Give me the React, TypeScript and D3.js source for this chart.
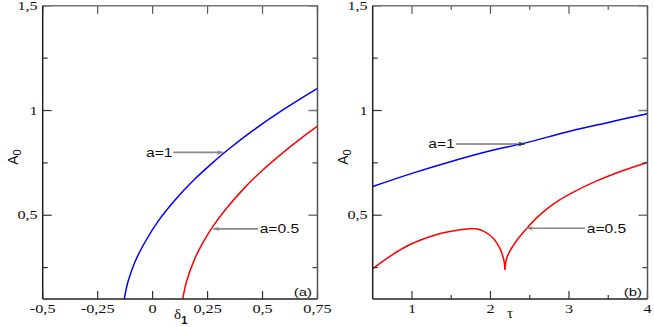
import React from "react";
import * as d3 from "d3";

// ---------- data ----------
// Panel (a): A0 vs delta_1
const blueDelta = [-0.129, -0.12, -0.111, -0.08, -0.035, 0.026, 0.101, 0.192, 0.283, 0.344, 0.457, 0.594, 0.75];
const blueDeltaA = [0.098, 0.149, 0.186, 0.278, 0.371, 0.473, 0.572, 0.673, 0.76, 0.814, 0.905, 1.004, 1.106];
const redDelta = [0.137, 0.142, 0.155, 0.192, 0.238, 0.276, 0.329, 0.42, 0.5, 0.6, 0.675, 0.75];
const redDeltaA = [0.098, 0.129, 0.186, 0.293, 0.386, 0.449, 0.524, 0.633, 0.715, 0.805, 0.867, 0.925];

// Panel (b): A0 vs tau
const blueTau = [0.5, 1.0, 1.5, 2.0, 2.42, 3.0, 3.5, 4.0];
const blueTauA = [0.637, 0.7, 0.757, 0.808, 0.843, 0.9, 0.943, 0.985];
const redTauLeft = [0.5, 0.72, 0.976, 1.317, 1.5, 1.74, 1.83, 1.91, 1.98, 2.04, 2.08, 2.126, 2.15, 2.168, 2.178, 2.183];
const redTauLeftA = [0.245, 0.304, 0.36, 0.408, 0.424, 0.436, 0.434, 0.424, 0.408, 0.388, 0.368, 0.337, 0.313, 0.29, 0.268, 0.24];
const redTauRight = [2.183, 2.2, 2.232, 2.339, 2.461, 2.615, 2.8, 3.02, 3.36, 3.7, 4.0];
const redTauRightA = [0.24, 0.285, 0.318, 0.382, 0.437, 0.497, 0.553, 0.603, 0.665, 0.715, 0.752];

// ticks
const yMajor = [0.5, 1, 1.5];
const yMajorLabels = ["0,5", "1", "1,5"];
const yMinor = [0.25, 0.75, 1.25];
const leftXTicks = [-0.5, -0.25, 0, 0.25, 0.5, 0.75];
const leftXLabels = ["-0,5", "-0,25", "0", "0,25", "0,5", "0,75"];
const rightXMajor = [1, 2, 3, 4];
const rightXLabels = ["1", "2", "3", "4"];
const rightXMinor = [1.5, 2.5, 3.5];

// annotations: [label, tipX, tipY, tailX, textX, textY, colour] in data units
const leftNotes: [string, number, number, number, number, number, string][] = [
  ["a=1", 0.32, 0.8, 0.094, -0.03, 0.78, "#888"],
  ["a=0.5", 0.276, 0.435, 0.48, 0.487, 0.417, "#888"],
];
const rightNotes: [string, number, number, number, number, number, string][] = [
  ["a=1", 2.44, 0.84, 1.561, 1.208, 0.82, "#333"],
  ["a=0.5", 2.461, 0.4376, 3.204, 3.226, 0.4166, "#888"],
];

const W = 654;
const H = 327;
const SX = 1.3;
const serif = "'Liberation Serif', 'Times New Roman', serif";
const sans = "'Liberation Sans', Arial, sans-serif";

const yScale = d3.scaleLinear().domain([0.1, 1.5]).range([299, 5.8]);
const xLeft = d3.scaleLinear().domain([-0.5, 0.75]).range([42.7, 317.5]);
const xRight = d3.scaleLinear().domain([0.5, 4]).range([372.7, 647.5]);

function T({ x, y, anchor = "start", font = serif, size = 12.5, fill = "#111", children }: any) {
  return (
    <g transform={`translate(${x},${y}) scale(${SX},1)`}>
      <text x={0} y={0} textAnchor={anchor} fontFamily={font} fontSize={size} fill={fill}>
        {children}
      </text>
    </g>
  );
}

function makePath(xs: number[], ys: number[], xs2: any) {
  const pts = xs.map((v, i) => [v, ys[i]] as [number, number]);
  return d3
    .line<[number, number]>()
    .x((d) => xs2(d[0]))
    .y((d) => yScale(d[1]))
    .curve(d3.curveCatmullRom.alpha(0.5))(pts) as string;
}

function Panel({ id, xs, xTicksMajor, xLabels, xTicksMinor, curves, notes, tag, xTitle }: any) {
  const [x0, x1] = xs.range();
  const y0 = yScale.range()[0];
  const y1 = yScale.range()[1];
  return (
    <g>
      <defs>
        <clipPath id={`clip-${id}`}>
          <rect x={x0} y={y1} width={x1 - x0} height={y0 - y1} />
        </clipPath>
      </defs>
      <g clipPath={`url(#clip-${id})`}>
        {curves.map((c: any, i: number) => (
          <path key={i} d={makePath(c.x, c.y, xs)} fill="none" stroke={c.color} strokeWidth={1.5} />
        ))}
      </g>
      {xTicksMajor.map((t: number, i: number) => (
        <g key={"xm" + i}>
          <line x1={xs(t)} x2={xs(t)} y1={y0} y2={y0 - 8} stroke="#333" strokeWidth={1.2} />
          <line x1={xs(t)} x2={xs(t)} y1={y1} y2={y1 + 8} stroke="#555" strokeWidth={1.2} />
        </g>
      ))}
      {xTicksMinor.map((t: number, i: number) => (
        <g key={"xn" + i}>
          <line x1={xs(t)} x2={xs(t)} y1={y0} y2={y0 - 4} stroke="#333" strokeWidth={1.2} />
          <line x1={xs(t)} x2={xs(t)} y1={y1} y2={y1 + 4} stroke="#555" strokeWidth={1.2} />
        </g>
      ))}
      {yMajor.map((t, i) => (
        <g key={"ym" + i}>
          <line x1={x0} x2={x0 + 9} y1={yScale(t)} y2={yScale(t)} stroke="#333" strokeWidth={1.2} />
          <line x1={x1} x2={x1 - 9} y1={yScale(t)} y2={yScale(t)} stroke="#777" strokeWidth={1.5} />
        </g>
      ))}
      {yMinor.map((t, i) => (
        <g key={"yn" + i}>
          <line x1={x0} x2={x0 + 5} y1={yScale(t)} y2={yScale(t)} stroke="#333" strokeWidth={1.2} />
          <line x1={x1} x2={x1 - 5} y1={yScale(t)} y2={yScale(t)} stroke="#444" strokeWidth={1.2} />
        </g>
      ))}
      <line x1={x0} x2={x1} y1={y1} y2={y1} stroke="#777" strokeWidth={1.5} />
      <line x1={x1} x2={x1} y1={y1} y2={y0} stroke="#555" strokeWidth={1.5} />
      <line x1={x0} x2={x0} y1={y1} y2={y0} stroke="#222" strokeWidth={1.5} />
      <line x1={x0} x2={x1} y1={y0} y2={y0} stroke="#222" strokeWidth={1.5} />
      {xLabels.map((l: string, i: number) => (
        <T key={"xl" + i} x={xs(xTicksMajor[i])} y={312.5} anchor="middle">
          {l}
        </T>
      ))}
      {yMajor.map((t, i) => (
        <T key={"yl" + i} x={x0 - 5} y={yScale(t) + 4} anchor="end">
          {yMajorLabels[i]}
        </T>
      ))}
      <text
        transform={`translate(${x0 - 24.5},157) rotate(-90)`}
        textAnchor="middle"
        fontFamily={sans}
        fontSize={14}
        fill="#111"
      >
        A<tspan fontSize={11} dy={3}>0</tspan>
      </text>
      {xTitle}
      <T x={x1 - 5.5} y={296} anchor="end" font={sans} size={11.5}>
        {tag}
      </T>
      {notes.map((n: any, i: number) => {
        const [label, tx, ty, tail, lx, ly, col] = n;
        return (
          <g key={"n" + i}>
            <line
              x1={xs(tail)}
              y1={yScale(ty)}
              x2={xs(tx)}
              y2={yScale(ty)}
              stroke={col}
              strokeWidth={col === "#333" ? 1 : 1.6}
              markerEnd={`url(#arrow-${col === "#333" ? "dark" : "gray"})`}
            />
            <T x={xs(lx)} y={yScale(ly)} font={sans} size={12}>
              {label}
            </T>
          </g>
        );
      })}
    </g>
  );
}

export default function App() {
  const cx1 = (xLeft.range()[0] + xLeft.range()[1]) / 2;
  const cx2 = (xRight.range()[0] + xRight.range()[1]) / 2;
  return (
    <svg
      width={W}
      height={H}
      style={{ position: "absolute", left: 0, top: 0, background: "#fff" }}
    >
      <defs>
        <marker id="arrow-gray" viewBox="0 0 8 6" refX="8" refY="3" markerWidth="6" markerHeight="5" markerUnits="userSpaceOnUse" orient="auto">
          <path d="M0,0 L8,3 L0,6 L2,3 Z" fill="#888" />
        </marker>
        <marker id="arrow-dark" viewBox="0 0 8 6" refX="8" refY="3" markerWidth="7" markerHeight="5" markerUnits="userSpaceOnUse" orient="auto">
          <path d="M0,0 L8,3 L0,6 L2,3 Z" fill="#333" />
        </marker>
      </defs>
      <rect x={0} y={0} width={W} height={H} fill="#fff" />
      <Panel
        id="a"
        xs={xLeft}
        xTicksMajor={leftXTicks}
        xLabels={leftXLabels}
        xTicksMinor={[]}
        curves={[
          { x: blueDelta, y: blueDeltaA, color: "#0000ff" },
          { x: redDelta, y: redDeltaA, color: "#ff0000" },
        ]}
        notes={leftNotes}
        tag="(a)"
        xTitle={
          <text x={cx1 - 6} y={318.5} fontFamily={serif} fontSize={15} fill="#111">
            δ<tspan fontFamily={sans} fontSize={11} fontWeight="bold" dy={5}>1</tspan>
          </text>
        }
      />
      <Panel
        id="b"
        xs={xRight}
        xTicksMajor={rightXMajor}
        xLabels={rightXLabels}
        xTicksMinor={rightXMinor}
        curves={[
          { x: blueTau, y: blueTauA, color: "#0000ff" },
          { x: redTauLeft, y: redTauLeftA, color: "#ff0000" },
          { x: redTauRight, y: redTauRightA, color: "#ff0000" },
        ]}
        notes={rightNotes}
        tag="(b)"
        xTitle={
          <text x={cx2} y={318} textAnchor="middle" fontFamily={serif} fontSize={15} fill="#111">
            τ
          </text>
        }
      />
    </svg>
  );
}
